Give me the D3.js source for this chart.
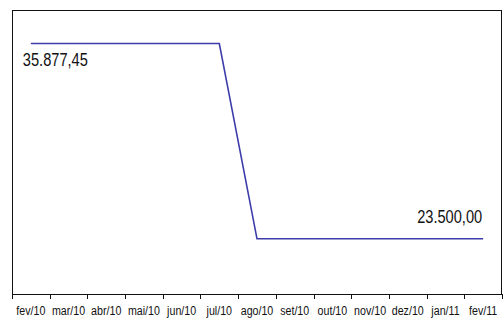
<!DOCTYPE html>
<html>
<head>
<meta charset="utf-8">
<script src="https://cdn.jsdelivr.net/npm/d3@7"></script>
<style>
  html, body { margin: 0; padding: 0; background: #fff; }
  svg { display: block; }
  text { font-family: "Liberation Sans", Arial, sans-serif; fill: #111; }
</style>
</head>
<body>
<svg id="chart" width="503" height="320"></svg>
<script>
// Monthly categories and values
const months = ["fev/10","mar/10","abr/10","mai/10","jun/10","jul/10","ago/10","set/10","out/10","nov/10","dez/10","jan/11","fev/11"];
const values = [35877.45,35877.45,35877.45,35877.45,35877.45,35877.45,23500,23500,23500,23500,23500,23500,23500];
// Points that carry a value label: index and text
const labelIdx = [0, 12];
const labelText = ["35.877,45", "23.500,00"];
const yDomain = [20000, 38000];

const svg = d3.select("#chart");
const plot = { left: 12, right: 502, top: 10, bottom: 294 };
const narrow = 0.79; // horizontal squeeze for a condensed look

const x = d3.scaleBand().domain(months).range([plot.left, plot.right]).padding(0);
const y = d3.scaleLinear().domain(yDomain).range([plot.bottom, plot.top]);

// Plot frame
svg.append("rect")
  .attr("x", plot.left + 0.5).attr("y", plot.top + 0.5)
  .attr("width", plot.right - plot.left - 1).attr("height", plot.bottom - plot.top)
  .attr("fill", "none").attr("stroke", "#111").attr("stroke-width", 1);

// Bottom axis: ticks on band edges, labels centered in bands
const edges = months.map(m => x(m)).concat([plot.right]);
const axisG = svg.append("g");
axisG.selectAll("line.tick").data(edges).join("line")
  .attr("class", "tick")
  .attr("x1", d => Math.round(d) + 0.5).attr("x2", d => Math.round(d) + 0.5)
  .attr("y1", plot.bottom).attr("y2", plot.bottom + 5)
  .attr("stroke", "#111").attr("stroke-width", 1);
axisG.selectAll("text").data(months).join("text")
  .attr("transform", d => `translate(${x(d) + x.bandwidth() / 2},315) scale(${narrow},1)`)
  .attr("text-anchor", "middle")
  .attr("font-size", 13.5)
  .text(d => d);

// Series line
const line = d3.line()
  .x((d, i) => x(months[i]) + x.bandwidth() / 2)
  .y(d => y(d));
svg.append("path")
  .datum(values)
  .attr("d", line)
  .attr("fill", "none")
  .attr("stroke", "#3c3caa")
  .attr("stroke-width", 1.6);

// Value labels
const lx0 = x(months[labelIdx[0]]) + x.bandwidth() / 2 - 8;
const ly0 = y(values[labelIdx[0]]) + 23;
svg.append("text")
  .attr("transform", `translate(${lx0},${ly0}) scale(${narrow},1)`)
  .attr("font-size", 18.5)
  .attr("text-anchor", "start")
  .text(labelText[0]);
const lx1 = x(months[labelIdx[1]]) + x.bandwidth() / 2 - 1;
const ly1 = y(values[labelIdx[1]]) - 16;
svg.append("text")
  .attr("transform", `translate(${lx1},${ly1}) scale(${narrow},1)`)
  .attr("font-size", 18.5)
  .attr("text-anchor", "end")
  .text(labelText[1]);
</script>
</body>
</html>
